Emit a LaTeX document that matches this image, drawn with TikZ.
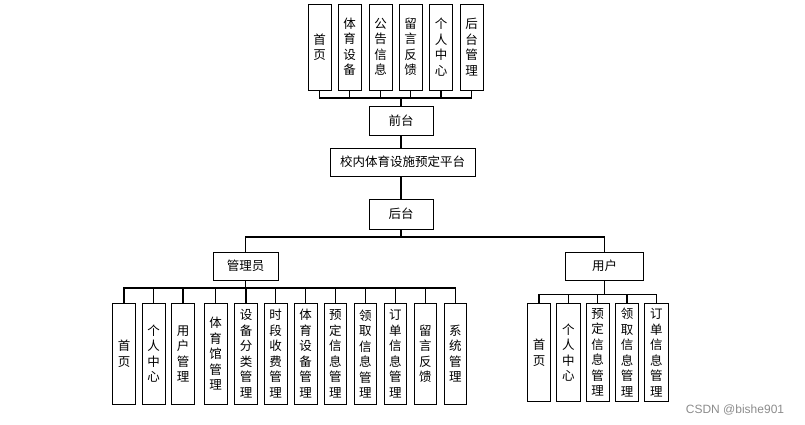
\documentclass[tikz,border=0pt]{standalone}
\usepackage{fontspec}
\newfontfamily\cjk{Noto Sans CJK SC}
\newfontfamily\wmfont{Liberation Sans}
\begin{document}
\begin{tikzpicture}[x=1pt,y=-1pt,
  box/.style={draw=black,line width=0.9pt,fill=white,inner sep=0pt,align=center,
    font=\cjk\fontsize{12.5}{15.5}\selectfont},
  vbox/.style={box,minimum width=23,minimum height=#1},
  hbox/.style={box,minimum height=28},
  conn/.style={draw=black,line width=1.2pt}]
\useasboundingbox (0,0) rectangle (805,424);
% top row
\foreach \n/\x/\t in {t1/319.5/首\\页, t2/349.5/体\\育\\设\\备, t3/380.5/公\\告\\信\\息,
   t4/410.5/留\\言\\反\\馈, t5/441/个\\人\\中\\心, t6/471.5/后\\台\\管\\理}
  \node[vbox=86] (\n) at (\x,47) {\t};
\node[hbox,minimum width=64,minimum height=29] (qt) at (401,120.5) {前台};
\node[hbox,minimum width=145] (plat) at (402.5,162) {校内体育设施预定平台};
\node[hbox,minimum width=64,minimum height=30] (ht) at (401,214) {后台};
\node[hbox,minimum width=65] (admin) at (245.5,266) {管理员};
\node[hbox,minimum width=77.6] (user) at (604.5,266) {用户};
% admin children
\foreach \n/\x/\t in {a1/124/首\\页, a2/153.7/个\\人\\中\\心, a3/183/用\\户\\管\\理,
   a4/215.7/体\\育\\馆\\管\\理, a5/246/设\\备\\分\\类\\管\\理, a6/275.7/时\\段\\收\\费\\管\\理,
   a7/305.7/体\\育\\设\\备\\管\\理, a8/335.3/预\\定\\信\\息\\管\\理, a9/365.3/领\\取\\信\\息\\管\\理,
   a10/395.3/订\\单\\信\\息\\管\\理, a11/425.3/留\\言\\反\\馈, a12/455.3/系\\统\\管\\理}
  \node[vbox=101,minimum width=22.7] (\n) at (\x,353.8) {\t};
% user children
\foreach \n/\x/\t in {u1/539/首\\页, u2/568.3/个\\人\\中\\心, u3/597.7/预\\定\\信\\息\\管\\理,
   u4/627/领\\取\\信\\息\\管\\理, u5/656.3/订\\单\\信\\息\\管\\理}
  \node[vbox=98.4,minimum width=23.4] (\n) at (\x,352.5) {\t};
% connectors top
\coordinate (tb) at (401,98);
\foreach \n in {t1,t2,t3,t4,t5,t6} \draw[conn] (\n.south) |- (tb);
\draw[conn] (tb) -- (qt.north);
\draw[conn] (qt.south) -- (qt.south |- plat.north);
\draw[conn] (ht.north |- plat.south) -- (ht.north);
\coordinate (hb) at (401,237);
\draw[conn] (ht.south) -- (hb);
\draw[conn] (hb) -| (admin.north);
\draw[conn] (hb) -| (user.north);
\coordinate (ab) at (245.5,288);
\draw[conn] (admin.south) -- (ab);
\foreach \n in {a1,a2,a3,a4,a5,a6,a7,a8,a9,a10,a11,a12} \draw[conn] (ab) -| (\n.north);
\coordinate (ub) at (604.5,294.3);
\draw[conn] (user.south) -- (ub);
\foreach \n in {u1,u2,u3,u4,u5} \draw[conn] (ub) -| (\n.north);
% watermark
\node[font=\wmfont\fontsize{12}{14}\selectfont,text=black!45,anchor=center,inner sep=0pt] (wm) at (735,410) {CSDN @bishe901};
\end{tikzpicture}
\end{document}
